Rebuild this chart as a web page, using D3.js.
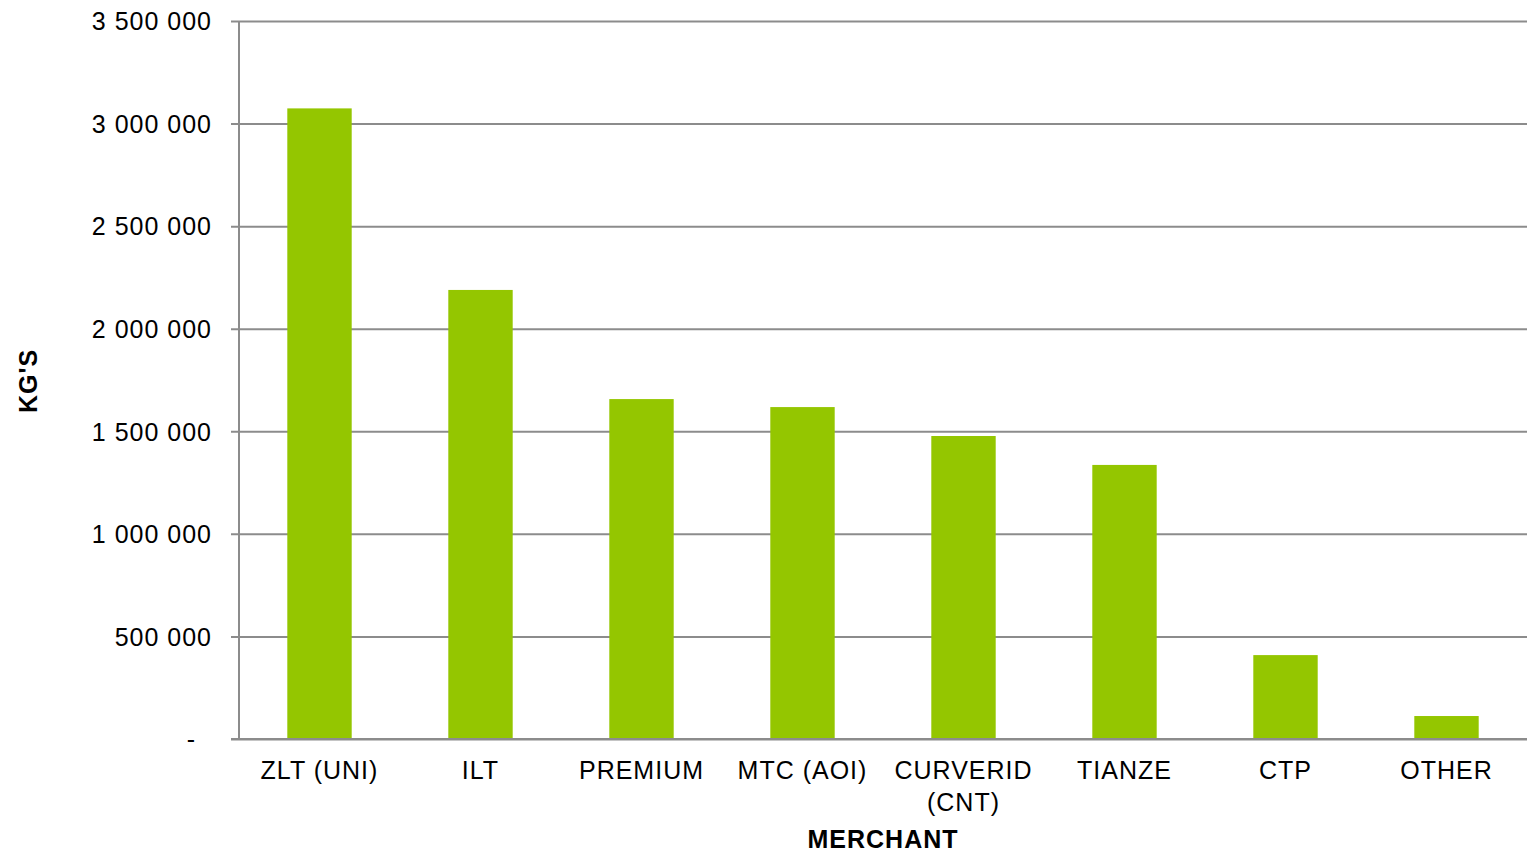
<!DOCTYPE html>
<html>
<head>
<meta charset="utf-8">
<script src="https://cdn.jsdelivr.net/npm/d3@7"></script>
<style>
  body { margin: 0; background: #fff; }
  text { font-family: "Liberation Sans", Arial, sans-serif; fill: #000; letter-spacing: 1px; }
</style>
</head>
<body>
<svg id="chart" width="1535" height="853"></svg>
<script>
// data
const merchants = ["ZLT (UNI)", "ILT", "PREMIUM", "MTC (AOI)", "CURVERID (CNT)", "TIANZE", "CTP", "OTHER"];
const kgs = [3074000, 2189000, 1657000, 1618000, 1477000, 1336000, 409000, 112000];
const yTicks = [0, 500000, 1000000, 1500000, 2000000, 2500000, 3000000, 3500000];

let plotLeft = 239, plotRight = 1527, plotTop = 21, plotBottom = 739;
let svg = d3.select("#chart");

let x = d3.scaleBand()
    .domain(merchants)
    .range([plotLeft, plotRight])
    .paddingInner(0.6)
    .paddingOuter(0.3);

let y = d3.scaleLinear()
    .domain([0, 3500000])
    .range([plotBottom, plotTop]);

let fmt = d3.formatLocale({decimal: ".", thousands: " ", grouping: [3], currency: ["", ""]}).format(",");

// gridlines + ticks
let yAxis = d3.axisLeft(y)
    .tickValues(yTicks)
    .tickSize(-(plotRight - plotLeft))
    .tickSizeOuter(0)
    .tickPadding(18)
    .tickFormat(d => d === 0 ? "-" : fmt(d));

let gy = svg.append("g").attr("transform", `translate(${plotLeft},0)`).call(yAxis);
gy.select(".domain").remove();
gy.selectAll(".tick line")
    .attr("x1", -8)
    .attr("stroke", "#8c8c8c")
    .attr("stroke-width", 2);
gy.selectAll(".tick text")
    .style("font-size", "25px")
    .attr("dy", "0.35em")
    .attr("x", -27)
    .filter(d => d === 0).attr("x", -43);

// vertical axis line
svg.append("line")
    .attr("x1", plotLeft).attr("x2", plotLeft)
    .attr("y1", plotTop).attr("y2", plotBottom)
    .attr("stroke", "#8c8c8c")
    .attr("stroke-width", 2);

// bars
svg.selectAll("rect.bar")
    .data(merchants)
    .enter()
    .append("rect")
    .attr("class", "bar")
    .attr("x", d => x(d))
    .attr("width", x.bandwidth())
    .attr("y", (d, i) => y(kgs[i]))
    .attr("height", (d, i) => y(0) - y(kgs[i]))
    .attr("fill", "#94c600");

// redraw baseline over bars
svg.append("line")
    .attr("x1", plotLeft - 8).attr("x2", plotRight)
    .attr("y1", plotBottom).attr("y2", plotBottom)
    .attr("stroke", "#8c8c8c")
    .attr("stroke-width", 2);

// category labels (long one goes on two lines)
merchants.forEach(function(m){
    let lines = m === "CURVERID (CNT)" ? ["CURVERID", "(CNT)"] : [m];
    let t = svg.append("text")
        .attr("x", x(m) + x.bandwidth() / 2)
        .attr("y", 779)
        .attr("text-anchor", "middle")
        .style("font-size", "25px");
    lines.forEach(function(l, i){
        t.append("tspan")
            .attr("x", x(m) + x.bandwidth() / 2)
            .attr("dy", i === 0 ? 0 : 32)
            .text(l);
    });
});

// axis titles
svg.append("text")
    .attr("x", 883)
    .attr("y", 848)
    .attr("text-anchor", "middle")
    .style("font-size", "25px")
    .style("font-weight", "bold")
    .text("MERCHANT");

svg.append("text")
    .attr("transform", "translate(37,381) rotate(-90)")
    .attr("text-anchor", "middle")
    .style("font-size", "25px")
    .style("font-weight", "bold")
    .text("KG'S");
</script>
</body>
</html>
